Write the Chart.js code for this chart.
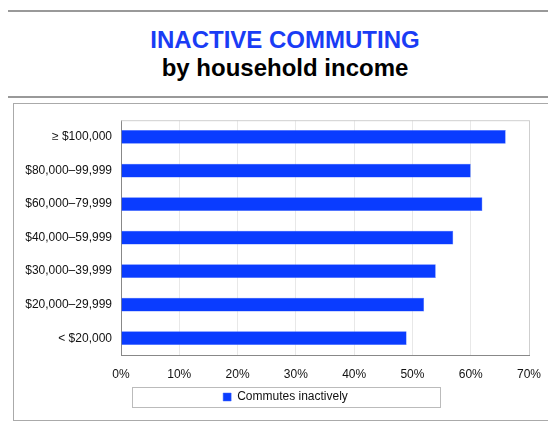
<!DOCTYPE html>
<html>
<head>
<meta charset="utf-8">
<script src="https://cdn.jsdelivr.net/npm/chart.js@4/dist/chart.umd.min.js"></script>
<style>
  body { margin: 0; background: #fff; font-family: "Liberation Sans", Arial, sans-serif; }
  .rule { position: absolute; left: 8px; width: 554px; height: 2px; background: #999; }
  .head { position: absolute; left: 8px; width: 554px; text-align: center; font-weight: bold; font-size: 24px; line-height: 28px; }
  #box { position: absolute; left: 13px; top: 103px; width: 543px; height: 316px; border: 1px solid #aaa; }
</style>
</head>
<body>
<div class="rule" style="top:10px"></div>
<div class="head" style="top:26px;color:#1a3cf5">INACTIVE COMMUTING</div>
<div class="head" style="top:54px;color:#000">by household income</div>
<div class="rule" style="top:96px"></div>
<div id="box"><canvas id="incomeChart" width="543" height="316"></canvas></div>
<script>
// Share of commuters who travel inactively, by household income band
const incomeBands = ["≥ $100,000", "$80,000–99,999", "$60,000–79,999", "$40,000–59,999", "$30,000–39,999", "$20,000–29,999", "< $20,000"]
const inactivePct = [66, 60, 62, 57, 54, 52, 49]
const pctTicks = [0, 10, 20, 30, 40, 50, 60, 70]

const labelFont = { family: "Liberation Sans, Arial, sans-serif", size: 12 }

// legend centred on the whole canvas, framed; light frame on top/right of the plot
const frames = {
  id: "frames",
  afterLayout(chart) {
    chart.legend.left = 0
    chart.legend.right = chart.width
  },
  afterDraw(chart) {
    const { ctx, chartArea: a, legend } = chart
    ctx.save()
    ctx.lineWidth = 1
    ctx.strokeStyle = "#cfcfcf"
    ctx.beginPath()
    ctx.moveTo(a.left, a.top + 0.5)
    ctx.lineTo(a.right + 0.5, a.top + 0.5)
    ctx.lineTo(a.right + 0.5, a.bottom)
    ctx.stroke()
    const hit = legend.legendHitBoxes[0]
    if (hit) {
      const cx = chart.width / 2
      const cy = hit.top + hit.height / 2
      ctx.strokeStyle = "#bbb"
      ctx.strokeRect(Math.round(cx - 154) + 0.5, Math.round(cy - 10) + 0.5, 308, 20)
    }
    ctx.restore()
  },
}

const ctx = document.getElementById("incomeChart").getContext("2d")
new Chart(ctx, {
  type: "bar",
  data: {
    labels: incomeBands,
    datasets: [
      {
        label: "Commutes inactively",
        data: inactivePct,
        backgroundColor: "#0a3cff",
        borderColor: "#3d66ff",
        borderWidth: 0.5,
        barPercentage: 0.41,
        categoryPercentage: 1,
      },
    ],
  },
  options: {
    indexAxis: "y",
    responsive: false,
    animation: false,
    layout: { padding: { left: 0, top: 12, right: 28, bottom: 7 } },
    plugins: {
      tooltip: { enabled: false },
      legend: {
        position: "bottom",
        labels: {
          boxWidth: 8,
          boxHeight: 8,
          padding: 6,
          color: "#111",
          font: labelFont,
        },
      },
    },
    scales: {
      x: {
        min: 0,
        max: 70,
        afterBuildTicks(scale) {
          scale.ticks = pctTicks.map((v) => ({ value: v }))
        },
        ticks: {
          padding: 12,
          color: "#111",
          font: labelFont,
          callback: (v) => v + "%",
        },
        grid: { color: "#e8e8e8", drawTicks: false },
        border: { color: "#888" },
        afterFit(scale) {
          scale.height = 30
        },
      },
      y: {
        ticks: {
          padding: 9,
          color: "#111",
          font: labelFont,
        },
        grid: { display: false, drawTicks: false },
        border: { color: "#888" },
        afterFit(scale) {
          scale.width = 107
        },
      },
    },
  },
  plugins: [frames],
})
</script>
</body>
</html>
